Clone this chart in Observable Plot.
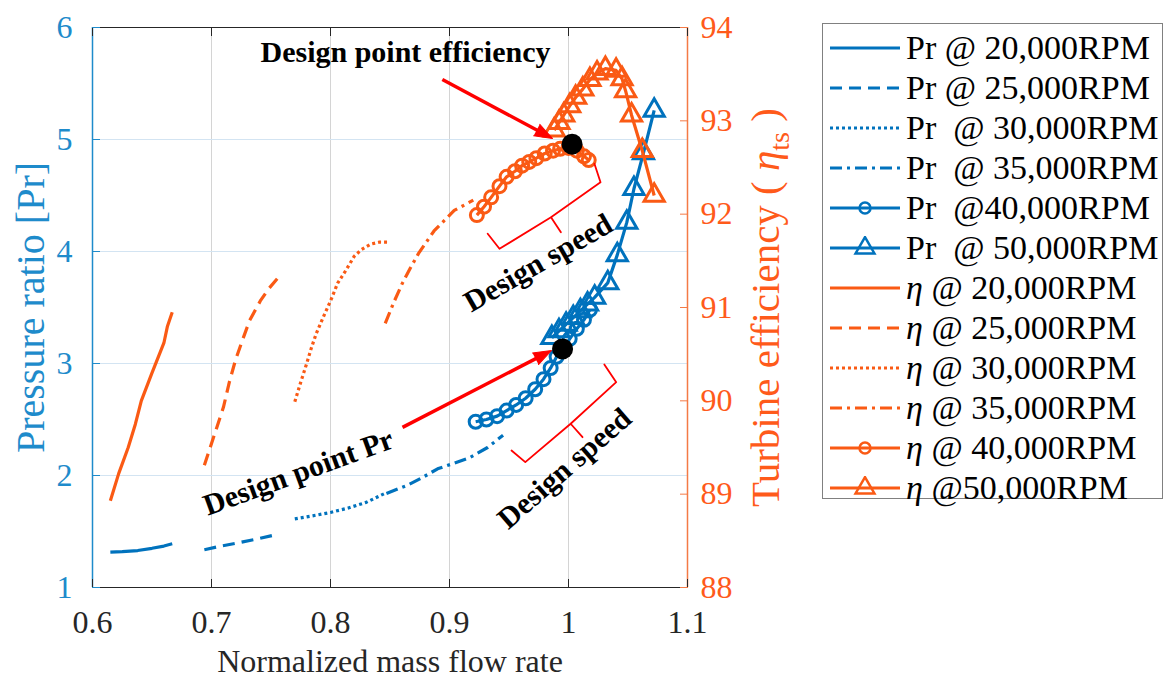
<!DOCTYPE html>
<html><head><meta charset="utf-8">
<script src="https://cdn.jsdelivr.net/npm/d3@7"></script>
<script src="https://cdn.jsdelivr.net/npm/@observablehq/plot@0.6"></script>
<style>
body{margin:0;background:#fff;}
#wrap{position:relative;width:1167px;height:691px;font-family:"Liberation Serif","Times New Roman",serif;overflow:hidden;}
#chart{position:absolute;left:0;top:0;}
#legend{position:absolute;left:822px;top:23px;width:341px;height:476px;border:1px solid #808080;background:#fff;box-sizing:border-box;}
.row{position:absolute;left:0;height:40px;display:flex;align-items:center;white-space:pre;font-size:34px;color:#000;line-height:40px;}
.row svg{margin-left:7px;margin-right:4px;flex:none;}
</style></head><body><div id="wrap"><div id="chart"></div><div id="legend"></div></div>
<script>
// ---- axis ticks ----
const xTicks = [0.6, 0.7, 0.8, 0.9, 1.0, 1.1];
const xTickLabels = ["0.6", "0.7", "0.8", "0.9", "1", "1.1"];
const prTicks = [1, 2, 3, 4, 5, 6];
const etaTicks = [88, 89, 90, 91, 92, 93, 94];

// ---- pressure ratio series [mass flow, Pr] ----
const pr20k = [[0.615,1.315],[0.625,1.32],[0.638,1.33],[0.650,1.35],[0.660,1.37],[0.667,1.39]];
const pr25k = [[0.694,1.337],[0.708,1.37],[0.723,1.40],[0.737,1.43],[0.751,1.464]];
const pr30k = [[0.770,1.613],[0.785,1.64],[0.800,1.67],[0.815,1.71],[0.830,1.76],[0.846,1.842]];
const pr35k = [[0.847,1.84],[0.864,1.91],[0.877,1.98],[0.890,2.06],[0.904,2.11],[0.917,2.16],[0.932,2.25],[0.945,2.36]];
const pr40k = [[0.922,2.48],[0.931,2.50],[0.940,2.53],[0.948,2.58],[0.956,2.63],[0.964,2.69],[0.972,2.77],[0.979,2.86],[0.985,2.96],[0.990,3.06],[0.996,3.14],[1.001,3.22],[1.007,3.31],[1.013,3.39],[1.018,3.48]];
const pr50k = [[0.986,3.23],[0.992,3.29],[0.998,3.35],[1.004,3.41],[1.010,3.47],[1.016,3.53],[1.022,3.59],[1.033,3.72],[1.041,3.97],[1.049,4.26],[1.055,4.56],[1.063,4.88],[1.072,5.26]];

// ---- efficiency series [mass flow, eta] ----
const eta20k = [[0.615,88.93],[0.622,89.22],[0.630,89.50],[0.636,89.75],[0.641,90.00],[0.650,90.30],[0.660,90.62],[0.663,90.80],[0.667,90.95]];
const eta25k = [[0.694,89.31],[0.702,89.62],[0.710,89.93],[0.715,90.20],[0.720,90.43],[0.726,90.65],[0.732,90.86],[0.741,91.07],[0.748,91.20],[0.756,91.32]];
const eta30k = [[0.770,89.99],[0.775,90.20],[0.780,90.40],[0.784,90.57],[0.788,90.72],[0.794,90.90],[0.800,91.07],[0.806,91.26],[0.813,91.40],[0.820,91.55],[0.826,91.62],[0.834,91.68],[0.841,91.70],[0.848,91.70]];
const eta35k = [[0.846,90.83],[0.853,91.05],[0.860,91.25],[0.867,91.42],[0.874,91.58],[0.887,91.82],[0.904,92.04],[0.920,92.15]];
const eta40k = [[0.923,91.99],[0.929,92.08],[0.935,92.18],[0.942,92.30],[0.948,92.40],[0.955,92.46],[0.961,92.52],[0.967,92.56],[0.973,92.60],[0.980,92.65],[0.987,92.68],[0.993,92.70],[1.000,92.71],[1.007,92.68],[1.013,92.62],[1.017,92.58]];
const eta50k = [[0.988,92.90],[0.992,92.98],[0.996,93.06],[1.001,93.16],[1.006,93.25],[1.012,93.34],[1.018,93.44],[1.024,93.51],[1.031,93.56],[1.040,93.54],[1.045,93.45],[1.048,93.32],[1.053,93.06],[1.062,92.68],[1.072,92.20]];

// ---- design points ----
const designPr = [[0.995, 3.13]];
const designEta = [[1.003, 92.75]];

// ---- legend labels ----
const legendLabels = ["Pr @ 20,000RPM","Pr @ 25,000RPM","Pr  @ 30,000RPM","Pr  @ 35,000RPM","Pr  @40,000RPM","Pr  @ 50,000RPM",
  "η @ 20,000RPM","η @ 25,000RPM","η @ 30,000RPM","η @ 35,000RPM","η @ 40,000RPM","η @50,000RPM"];

// ---- annotations (data coordinates, Pr space) ----
const arrowEff = {x1: 0.894, y1: 5.536, x2: 0.9866, y2: 5.009};
const arrowPr = {x1: 0.8605, y1: 2.43, x2: 0.9857, y2: 3.116};
const bracketUpper = [[1.0218,4.783],[1.0269,4.619],[0.9853,4.306],[0.9936,4.172],[0.9853,4.306],[0.9420,4.024],[0.9321,4.158]];
const bracketLower = [[1.0301,2.991],[1.0401,2.833],[1.0018,2.462],[1.0118,2.342],[1.0018,2.462],[0.9637,2.119],[0.9521,2.223]];
const labels = [
  {x: 0.863, y: 5.777, text: "Design point efficiency", rotate: 0},
  {x: 0.773, y: 2.027, text: "Design point Pr", rotate: -20},
  {x: 0.9745, y: 3.897, text: "Design speed", rotate: -30},
  {x: 0.9966, y: 2.0625, text: "Design speed", rotate: -41}
];

const BLUE = "#0072BD", ORANGE = "#FA5A14";
const LEFTAX = "#1E8BCB", RIGHTAX = "#F47A45", RIGHTTXT = "#FF5A1A";
const etaToY = e => 1 + (e - 88) * 5 / 6;
const yToEta = y => (y - 1) * 6 / 5 + 88;

const W = 800, H = 691, ML = 92, MR = 113, MT = 27, MB = 104;
const kx = (W - ML - MR) / 0.5, ky = (H - MT - MB) / 5;
const arrows = [arrowEff, arrowPr].map(a => ({...a, angle: Math.atan2((a.x2 - a.x1) * kx, (a.y2 - a.y1) * ky) * 180 / Math.PI}));
// shaft stops a bit before the tip so the filled head covers it
const shafts = arrows.map(a => {
  const len = Math.hypot((a.x2 - a.x1) * kx, (a.y2 - a.y1) * ky);
  const f = (len - 10) / len;
  return {x1: a.x1, y1: a.y1, x2: a.x1 + (a.x2 - a.x1) * f, y2: a.y1 + (a.y2 - a.y1) * f};
});

const DASH = {solid: null, dashed: "12,7", dotted: "3,3", dashdot: "12,5,3,5"};
const series = [
  {data: pr20k, kind: "pr", dash: "solid", marker: null},
  {data: pr25k, kind: "pr", dash: "dashed", marker: null},
  {data: pr30k, kind: "pr", dash: "dotted", marker: null},
  {data: pr35k, kind: "pr", dash: "dashdot", marker: null},
  {data: pr40k, kind: "pr", dash: "solid", marker: "circle"},
  {data: pr50k, kind: "pr", dash: "solid", marker: "triangle"},
  {data: eta20k, kind: "eta", dash: "solid", marker: null},
  {data: eta25k, kind: "eta", dash: "dashed", marker: null},
  {data: eta30k, kind: "eta", dash: "dotted", marker: null},
  {data: eta35k, kind: "eta", dash: "dashdot", marker: null},
  {data: eta40k, kind: "eta", dash: "solid", marker: "circle"},
  {data: eta50k, kind: "eta", dash: "solid", marker: "triangle"}
];

const marks = [
  Plot.gridX(xTicks, {stroke: "#d4d4d4", strokeOpacity: 1, strokeWidth: 1}),
  Plot.gridY(prTicks, {stroke: "#d3e4f2", strokeOpacity: 1, strokeWidth: 1.2})
];
for (const s of series) {
  const color = s.kind === "pr" ? BLUE : ORANGE;
  const yf = s.kind === "pr" ? (d => d[1]) : (d => etaToY(d[1]));
  marks.push(Plot.line(s.data, {x: d => d[0], y: yf, stroke: color, strokeWidth: 3.2, strokeDasharray: DASH[s.dash], strokeLinecap: "butt"}));
  if (s.marker) marks.push(Plot.dot(s.data, {x: d => d[0], y: yf, symbol: s.marker, r: s.marker === "circle" ? 6.5 : 7.5, stroke: color, strokeWidth: 3, fill: "none"}));
}
marks.push(
  Plot.dot(designPr, {x: d => d[0], y: d => d[1], r: 10.5, fill: "#000"}),
  Plot.dot(designEta, {x: d => d[0], y: d => etaToY(d[1]), r: 10.5, fill: "#000"}),
  Plot.line(bracketUpper, {x: d => d[0], y: d => d[1], stroke: "#f00", strokeWidth: 1.8}),
  Plot.line(bracketLower, {x: d => d[0], y: d => d[1], stroke: "#f00", strokeWidth: 1.8}),
  Plot.link(shafts, {x1: "x1", y1: "y1", x2: "x2", y2: "y2", stroke: "#f00", strokeWidth: 3.5}),
  Plot.vector(arrows, {x: "x2", y: "y2", rotate: "angle", length: 18, r: 6.5, anchor: "end", shape: "spike", fill: "#f00", stroke: "#f00", strokeWidth: 1}),
  Plot.text(labels, {x: "x", y: "y", text: "text", rotate: "rotate", fontSize: 30, fontWeight: "bold", fill: "#000"}),
  // frame
  Plot.ruleY([1], {stroke: "#262626", strokeWidth: 1.2}),
  Plot.ruleY([6], {stroke: "#262626", strokeWidth: 1.2}),
  Plot.ruleX([0.6], {stroke: LEFTAX, strokeWidth: 1.5}),
  Plot.ruleX([1.1], {stroke: RIGHTAX, strokeWidth: 1.5}),
  // axes
  Plot.axisX(xTicks, {anchor: "bottom", tickSize: -8, tickPadding: 31, tickFormat: d => xTickLabels[xTicks.indexOf(d)], fontSize: 32, stroke: "#262626", fill: "#262626", label: null}),
  Plot.axisX(xTicks, {anchor: "top", tickSize: -8, tickFormat: () => "", stroke: "#262626", label: null}),
  Plot.axisY(prTicks, {anchor: "left", tickSize: -8, tickPadding: 28, tickFormat: d => String(d), fontSize: 32, stroke: LEFTAX, fill: LEFTAX, label: null}),
  Plot.axisY(etaTicks.map(etaToY), {anchor: "right", tickSize: -8, tickPadding: 21, tickFormat: d => String(Math.round(yToEta(d))), fontSize: 32, stroke: RIGHTAX, fill: RIGHTTXT, label: null}),
  Plot.text(["Normalized mass flow rate"], {frameAnchor: "bottom", text: d => d, dy: 84, fontSize: 32, fill: "#262626", textAnchor: "middle"}),
  Plot.text(["Pressure ratio [Pr]"], {frameAnchor: "left", text: d => d, rotate: -90, dx: -61, fontSize: 40, fill: LEFTAX, textAnchor: "middle"}),
  Plot.text(["Turbine efficiency ( η ts )"], {frameAnchor: "right", text: d => d, rotate: -90, dx: 78, fontSize: 41, fill: RIGHTTXT, textAnchor: "middle"})
);

const chart = Plot.plot({
  width: W, height: H,
  marginLeft: ML, marginRight: MR, marginTop: MT, marginBottom: MB,
  x: {domain: [0.6, 1.1]},
  y: {domain: [1, 6]},
  style: {fontFamily: '"Liberation Serif","Times New Roman",serif', background: "transparent", overflow: "visible", color: "#262626"},
  marks
});
document.getElementById("chart").appendChild(chart);

// rich text for right axis title
d3.select(chart).selectAll("text").filter(function() { return this.textContent === "Turbine efficiency ( η ts )"; })
  .each(function() {
    const t = d3.select(this);
    t.text(null);
    t.append("tspan").text("Turbine efficiency ( ");
    t.append("tspan").attr("font-style", "italic").text("η");
    t.append("tspan").attr("font-size", "28px").attr("dy", 10).text("ts");
    t.append("tspan").attr("dy", -10).text(" )");
  });

// legend
const legend = d3.select("#legend");
series.forEach((s, i) => {
  const color = s.kind === "pr" ? BLUE : ORANGE;
  const row = legend.append("div").attr("class", "row").style("top", (4 + 40 * i) + "px");
  const svg = row.append("svg").attr("width", 72).attr("height", 24);
  svg.append("line").attr("x1", 0).attr("x2", 70).attr("y1", 12).attr("y2", 12)
    .attr("stroke", color).attr("stroke-width", 3).attr("stroke-dasharray", DASH[s.dash]);
  if (s.marker === "circle") svg.append("circle").attr("cx", 35).attr("cy", 12).attr("r", 5.5).attr("fill", "none").attr("stroke", color).attr("stroke-width", 2.5);
  if (s.marker === "triangle") svg.append("path").attr("d", d3.symbol(d3.symbolTriangle, Math.PI * 49)()).attr("transform", "translate(35,12)").attr("fill", "none").attr("stroke", color).attr("stroke-width", 2.5);
  const lab = legendLabels[i];
  const span = row.append("span");
  if (lab.startsWith("η")) {
    span.append("i").text("η");
    span.append("span").text(lab.slice(1));
  } else span.text(lab);
});
</script></body></html>
